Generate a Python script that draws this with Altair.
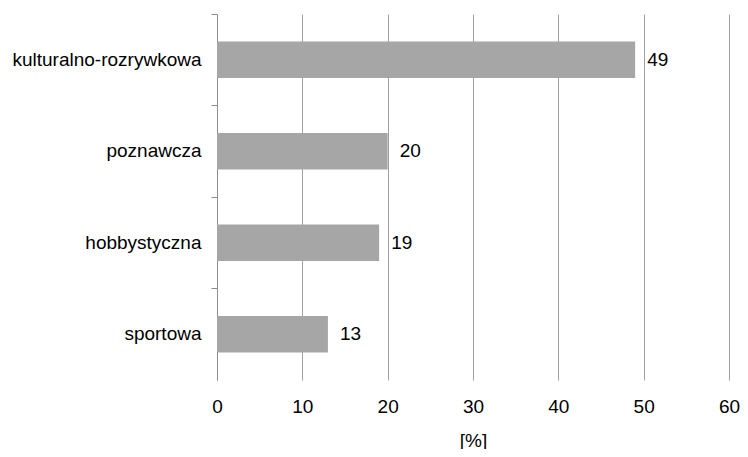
import altair as alt
import pandas as pd

categories = ["kulturalno-rozrywkowa", "poznawcza", "hobbystyczna", "sportowa"]
values = [49, 20, 19, 13]
x_ticks = [0, 10, 20, 30, 40, 50, 60]

df = pd.DataFrame({"cat": categories, "val": values})

FONT = "Liberation Sans"

y_enc = alt.Y(
    "cat:N",
    sort=categories,
    scale=alt.Scale(paddingInner=0, paddingOuter=0),
    axis=alt.Axis(
        title=None,
        bandPosition=0,
        domain=True,
        domainColor="#8c8c8c",
        ticks=True,
        tickColor="#8c8c8c",
        tickSize=6,
        labelPadding=10,
        labelLimit=400,
        labelFont=FONT,
        labelFontSize=19,
        labelColor="#000000",
        grid=False,
    ),
)

x_enc = alt.X(
    "val:Q",
    scale=alt.Scale(domain=[0, 60], nice=False),
    axis=alt.Axis(
        title="[%]",
        values=x_ticks,
        domain=False,
        ticks=False,
        grid=True,
        gridColor="#a0a0a0",
        gridWidth=1,
        labelFlush=False,
        labelPadding=17,
        labelFont=FONT,
        labelFontSize=19,
        labelColor="#000000",
        titleFont=FONT,
        titleFontSize=19,
        titleFontWeight="normal",
        titleColor="#000000",
        titlePadding=15,
    ),
)

bars = alt.Chart(df).mark_bar(color="#a6a6a6", height={"band": 0.4}).encode(x=x_enc, y=y_enc)

labels = alt.Chart(df).mark_text(
    align="left", baseline="middle", dx=12, font=FONT, fontSize=19, color="#000000"
).encode(x=alt.X("val:Q"), y=alt.Y("cat:N", sort=categories), text="val:Q")

chart = (
    alt.layer(bars, labels)
    .properties(
        width=512,
        height=366,
        autosize=alt.AutoSizeParams(type="none"),
        padding={"top": 6, "left": 209, "right": 11, "bottom": 69},
    )
    .configure_view(stroke=None)
)

chart.save("out.html", embed_options={"renderer": "svg", "actions": False})
